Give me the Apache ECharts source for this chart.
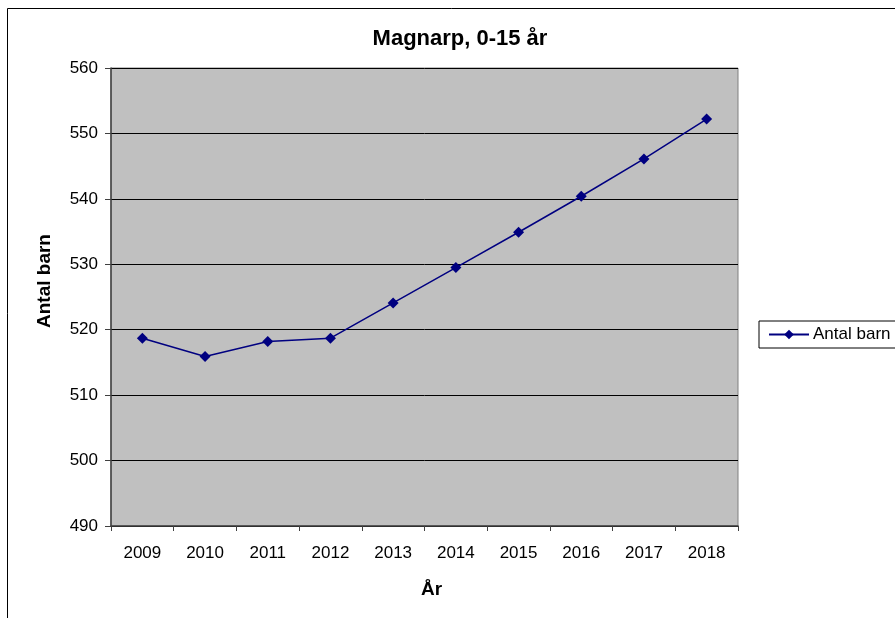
<!DOCTYPE html>
<html>
<head>
<meta charset="utf-8">
<script src="https://cdn.jsdelivr.net/npm/echarts@6/dist/echarts.min.js"></script>
<style>
  html, body { margin: 0; padding: 0; background: #fff; }
  #chart { width: 895px; height: 618px; }
</style>
</head>
<body>
<div id="chart"></div>
<script>
  var years = ['2009', '2010', '2011', '2012', '2013', '2014', '2015', '2016', '2017', '2018'];
  var antalBarn = [518.7, 515.9, 518.2, 518.7, 524.1, 529.5, 534.9, 540.4, 546.1, 552.2];
  var yMin = 490, yMax = 560, yStep = 10;

  var chart = echarts.init(document.getElementById('chart'));
  var font = 'Liberation Sans, Arial, sans-serif';
  var option = {
    animation: false,
    backgroundColor: '#fff',
    textStyle: { fontFamily: font },
    title: {
      text: 'Magnarp, 0-15 år',
      left: 455,
      textAlign: 'center',
      top: 23,
      textStyle: { fontSize: 22, fontWeight: 'bold', color: '#000', fontFamily: font }
    },
    graphic: [{
      type: 'rect',
      shape: { x: 7.5, y: 8.5, width: 1000, height: 1000 },
      style: { fill: 'none', stroke: '#000', lineWidth: 1 },
      silent: true
    }],
    legend: {
      left: 759,
      top: 321,
      orient: 'vertical',
      padding: [5, 40, 5, 9],
      itemWidth: 40,
      itemHeight: 12,
      itemGap: 4,
      borderColor: '#000',
      borderWidth: 1,
      borderRadius: 0,
      textStyle: { fontSize: 17, color: '#000', fontFamily: font, padding: [0, 0, 0, -1] },
      data: ['Antal barn']
    },
    grid: {
      left: 111, top: 68, right: 157, bottom: 92,
      show: true,
      backgroundColor: '#c0c0c0',
      borderColor: '#808080',
      borderWidth: 1
    },
    xAxis: {
      type: 'category',
      data: years,
      boundaryGap: true,
      name: 'År',
      nameLocation: 'middle',
      nameGap: 54,
      nameTextStyle: { fontSize: 19, fontWeight: 'bold', color: '#000', fontFamily: font, padding: [0, 0, 0, 14] },
      axisLine: { lineStyle: { color: '#404040', width: 1.5 } },
      axisTick: { show: true, length: 5, lineStyle: { color: '#404040' } },
      axisLabel: { fontSize: 17, color: '#000', margin: 19, fontFamily: font },
      splitLine: { show: false }
    },
    yAxis: {
      type: 'value',
      min: yMin,
      max: yMax,
      interval: yStep,
      name: 'Antal barn',
      nameLocation: 'middle',
      nameGap: 57,
      nameRotate: 90,
      nameTextStyle: { fontSize: 19, fontWeight: 'bold', color: '#000', fontFamily: font, padding: [0, 0, 0, 32] },
      axisLine: { show: true, lineStyle: { color: '#404040', width: 1.5 } },
      axisTick: { show: true, length: 6, lineStyle: { color: '#404040' } },
      axisLabel: { fontSize: 17, color: '#000', margin: 13, fontFamily: font },
      splitLine: { show: true, lineStyle: { color: '#000', width: 1 } }
    },
    series: [{
      name: 'Antal barn',
      type: 'line',
      data: antalBarn,
      symbol: 'diamond',
      symbolSize: 11,
      lineStyle: { color: '#000080', width: 1.5 },
      itemStyle: { color: '#000080' }
    }]
  };
  chart.setOption(option);
</script>
</body>
</html>
